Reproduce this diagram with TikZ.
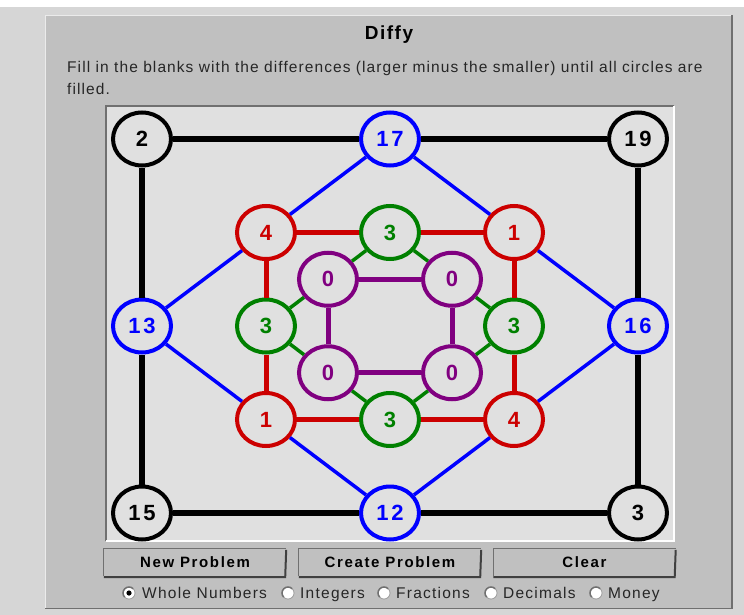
\documentclass[tikz,border=0pt]{standalone}
\usepackage{fontspec}
\setmainfont{Liberation Sans}
\newfontfamily\txtfont[LetterSpace=7]{Liberation Sans}
\newfontfamily\radfont[LetterSpace=8]{Liberation Sans}
\newfontfamily\btnfont[LetterSpace=11]{Liberation Sans}
\newfontfamily\ttlfont[LetterSpace=8]{Liberation Sans}
\newfontfamily\numfont[LetterSpace=12]{Liberation Sans}
\usetikzlibrary{shapes.geometric}
\definecolor{bgtex}{HTML}{D6D6D6}
\definecolor{panel}{HTML}{C0C0C0}
\definecolor{board}{HTML}{E0E0E0}
\definecolor{cblack}{HTML}{000000}
\definecolor{cblue}{HTML}{0000FF}
\definecolor{cred}{HTML}{CC0000}
\definecolor{cgreen}{HTML}{008000}
\definecolor{cpurple}{HTML}{800080}
\definecolor{edgedark}{HTML}{707070}
\tikzset{
  ring/.style={ellipse, draw=#1, text=#1, fill=board, line width=4pt,
    minimum width=58pt, minimum height=53pt, inner sep=0pt,
    font=\numfont\bfseries\fontsize{22}{22}\selectfont},
  lblack/.style={draw=cblack, line width=5.5pt},
  lblue/.style={draw=cblue, line width=3.5pt},
  lred/.style={draw=cred, line width=5pt},
  lgreen/.style={draw=cgreen, line width=3.5pt},
  lpurple/.style={draw=cpurple, line width=5pt},
  btn/.style={fill=panel, minimum width=182pt, minimum height=27pt, inner sep=0pt,
    font=\btnfont\bfseries\fontsize{15}{15}\selectfont},
  radlbl/.style={anchor=base west, inner sep=0pt, font=\radfont\fontsize{15.5}{15.5}\selectfont, text=black!85},
  txtlbl/.style={anchor=base west, inner sep=0pt, font=\txtfont\fontsize{15.5}{15.5}\selectfont, text=black!85},
}
\newcommand{\radiobtn}[2]{%
  \fill[white] (#1,593) circle (6pt);
  \draw[edgedark, line width=1.5pt] (#1,593) ++(45:6pt) arc (45:225:6pt);
  \draw[panel!80!black, line width=0.8pt] (#1,593) ++(225:6pt) arc (225:405:6pt);
  \ifx#2y\fill[black] (#1,593) circle (2.6pt);\fi
}
\begin{document}
\begin{tikzpicture}[x=1pt,y=-1pt]
\useasboundingbox (0,0) rectangle (744,615);
\fill[white] (0,0) rectangle (744,615);
\fill[bgtex] (0,7) rectangle (744,615);
% panel
\fill[panel] (45,15) rectangle (733,609);
\draw[white!92!black, line width=1pt] (45.5,609) -- (45.5,15.5) -- (733,15.5);
\draw[edgedark, line width=1.5pt] (732,15) -- (732,608.5) -- (45,608.5);
% title and text
\node[font=\ttlfont\bfseries\fontsize{19}{19}\selectfont, inner sep=0pt, anchor=base] (title) at (389,40) {Diffy};
\node[txtlbl] (line1) at (67,72.7) {Fill in the blanks with the differences (larger minus the smaller) until all circles are};
\node[txtlbl] (line2) at (67,94.5) {filled.};
% board
\fill[board] (105,105) rectangle (674,541);
\draw[edgedark, line width=2pt] (106,541) -- (106,106) -- (674,106);
\draw[white, line width=2pt] (674,106) -- (674,541) -- (106,541);
% nodes
\node[ring=cblack] (b2) at (142,139) {2};
\node[ring=cblack] (b19) at (638,139) {19};
\node[ring=cblack] (b15) at (142,513) {15};
\node[ring=cblack] (b3) at (638,513) {3};
\node[ring=cblue] (u17) at (390,139) {17};
\node[ring=cblue] (u13) at (142,326) {13};
\node[ring=cblue] (u16) at (638,326) {16};
\node[ring=cblue] (u12) at (390,513) {12};
\node[ring=cred] (r4) at (266,232.5) {4};
\node[ring=cred] (r1) at (514,232.5) {1};
\node[ring=cred] (rb1) at (266,419.5) {1};
\node[ring=cred] (rb4) at (514,419.5) {4};
\node[ring=cgreen] (g3t) at (390,232.5) {3};
\node[ring=cgreen] (g3l) at (266,326) {3};
\node[ring=cgreen] (g3r) at (514,326) {3};
\node[ring=cgreen] (g3b) at (390,419.5) {3};
\node[ring=cpurple] (p1) at (328,279.25) {0};
\node[ring=cpurple] (p2) at (452,279.25) {0};
\node[ring=cpurple] (p3) at (328,372.75) {0};
\node[ring=cpurple] (p4) at (452,372.75) {0};
% edges
\draw[lblack] (b2) -- (u17); \draw[lblack] (u17) -- (b19);
\draw[lblack] (b19) -- (u16); \draw[lblack] (u16) -- (b3);
\draw[lblack] (b3) -- (u12); \draw[lblack] (u12) -- (b15);
\draw[lblack] (b15) -- (u13); \draw[lblack] (u13) -- (b2);
\draw[lblue] (u17) -- (r4); \draw[lblue] (r4) -- (u13);
\draw[lblue] (u13) -- (rb1); \draw[lblue] (rb1) -- (u12);
\draw[lblue] (u12) -- (rb4); \draw[lblue] (rb4) -- (u16);
\draw[lblue] (u16) -- (r1); \draw[lblue] (r1) -- (u17);
\draw[lred] (r4) -- (g3t); \draw[lred] (g3t) -- (r1);
\draw[lred] (r1) -- (g3r); \draw[lred] (g3r) -- (rb4);
\draw[lred] (rb4) -- (g3b); \draw[lred] (g3b) -- (rb1);
\draw[lred] (rb1) -- (g3l); \draw[lred] (g3l) -- (r4);
\draw[lgreen] (g3t) -- (p1); \draw[lgreen] (p1) -- (g3l);
\draw[lgreen] (g3l) -- (p3); \draw[lgreen] (p3) -- (g3b);
\draw[lgreen] (g3b) -- (p4); \draw[lgreen] (p4) -- (g3r);
\draw[lgreen] (g3r) -- (p2); \draw[lgreen] (p2) -- (g3t);
\draw[lpurple] (p1) -- (p2); \draw[lpurple] (p2) -- (p4);
\draw[lpurple] (p4) -- (p3); \draw[lpurple] (p3) -- (p1);
% buttons
\foreach \nm/\cx/\lbl in {bnew/195/New Problem, bcreate/390/Create Problem, bclear/584.5/Clear}{
  \node[btn] (\nm) at (\cx,562.5) {\lbl};
  \draw[edgedark, line width=1pt] (\nm.south west) -- (\nm.north west) -- (\nm.north east);
  \draw[black!75, line width=2pt] ([yshift=-1pt]\nm.north east) -- ([xshift=-1pt,yshift=-1pt]\nm.south east) -- ([yshift=-1pt]\nm.south west);
}
% radio buttons
\radiobtn{129}{y}
\node[radlbl] (rwhole) at (142,598.5) {Whole Numbers};
\radiobtn{288}{n}
\node[radlbl] (rint) at (300,598.5) {Integers};
\radiobtn{384}{n}
\node[radlbl] (rfrac) at (396,598.5) {Fractions};
\radiobtn{491}{n}
\node[radlbl] (rdec) at (503,598.5) {Decimals};
\radiobtn{596}{n}
\node[radlbl] (rmon) at (608,598.5) {Money};
\end{tikzpicture}
\end{document}
